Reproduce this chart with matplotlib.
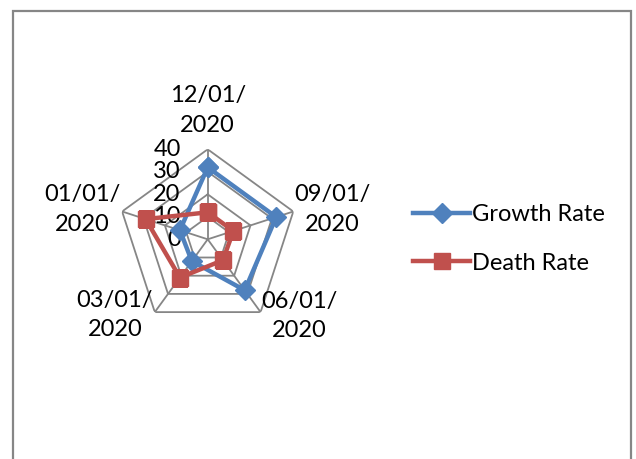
import numpy as np
import matplotlib
matplotlib.use('Agg')
import matplotlib.pyplot as plt
from matplotlib.patches import Rectangle

categories = ['12/01/\n2020', '09/01/\n2020', '06/01/\n2020', '03/01/\n2020', '01/01/\n2020']
growth_rate = [32, 32, 28, 12, 13]
death_rate = [12, 12, 11.5, 21, 29]
radial_ticks = [0, 10, 20, 30, 40]

BLUE = '#4F81BD'
RED = '#C0504D'
GRID = '#868686'

plt.rcParams['font.family'] = ['Lato', 'DejaVu Sans']

fig = plt.figure(figsize=(6.36, 4.59), dpi=100)

# outer chart border like the spreadsheet chart area
fig.add_artist(Rectangle((13 / 636, -0.05), 618 / 636, 1.05 - 11 / 459,
                         transform=fig.transFigure, fill=False,
                         edgecolor=GRID, linewidth=1.6))

ax = fig.add_axes([117.7 / 636, 129.7 / 459, 180 / 636, 180 / 459], projection='polar')
ax.set_theta_zero_location('N')
ax.set_theta_direction(-1)
ax.set_ylim(0, radial_ticks[-1])
ax.axis('off')

n = len(categories)
theta = np.linspace(0, 2 * np.pi, n, endpoint=False)
closed = np.append(theta, theta[0])

# pentagon grid and spokes
for r in radial_ticks[1:]:
    ax.plot(closed, [r] * (n + 1), color=GRID, linewidth=1.3, zorder=1)
for t in theta:
    ax.plot([t, t], [0, radial_ticks[-1]], color=GRID, linewidth=1.3, zorder=1)

# radial value labels left of the top spoke
for r in radial_ticks:
    ax.annotate(str(r), xy=(0, r), xytext=(-27, 0), textcoords='offset pixels',
                ha='right', va='center', fontsize=17)

# category labels
offsets = [(0, 39), (39, 2), (39, -4), (-40, -3), (-40, 2)]
for t, lab, off in zip(theta, categories, offsets):
    ax.annotate(lab, xy=(t, radial_ticks[-1]), xytext=off, textcoords='offset pixels',
                ha='center', va='center', fontsize=17, linespacing=1.5,
                annotation_clip=False)

ax.plot(closed, np.append(growth_rate, growth_rate[0]), color=BLUE, linewidth=3.2,
        marker='D', markersize=10, label='Growth Rate', zorder=3)
ax.plot(closed, np.append(death_rate, death_rate[0]), color=RED, linewidth=3.2,
        marker='s', markersize=11, label='Death Rate', zorder=3)

fig.legend(loc='center left', bbox_to_anchor=(392 / 636, 1 - 239 / 459),
           frameon=False, fontsize=17, handlelength=2.4, handletextpad=0.1,
           labelspacing=1.15)

fig.savefig('out.png', dpi=100)
